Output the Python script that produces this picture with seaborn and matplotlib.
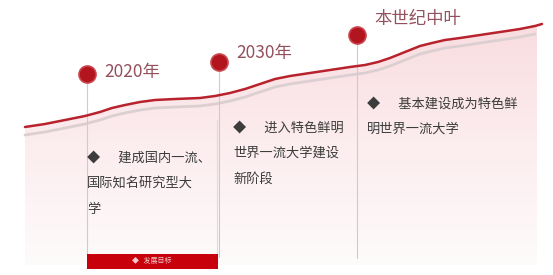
import numpy as np
import matplotlib
matplotlib.use('Agg')
import matplotlib.pyplot as plt
import seaborn as sns
import pandas as pd
from matplotlib.colors import LinearSegmentedColormap

sns.set_theme(style='white')
plt.rcParams['font.family'] = ['Noto Sans CJK SC', 'DejaVu Sans']

# curve (pixel coords, y down)
curve_x = [25, 45, 65, 85, 100, 112, 125, 140, 155, 175, 200, 215, 230, 245,
           260, 275, 290, 310, 330, 350, 365, 378, 390, 400, 410, 420, 432,
           445, 460, 480, 500, 520, 535, 542]
curve_y = [127, 124, 120, 116, 112, 108, 105, 102, 100, 99, 98, 96, 93, 89,
           84, 79, 76, 73, 70, 67, 65, 62, 58, 54, 50, 46, 43,
           40, 38, 35, 32, 29, 26, 24]

# milestones
stage_labels = ['2020年', '2030年', '本世纪中叶']
stage_x = [87, 219, 357]
stage_y = [74, 62, 35]
label_pos = [(104, 72), (236, 53), (374, 19)]

stage_text = [
    ['◆      建成国内一流、', '国际知名研究型大', '学'],
    ['◆      进入特色鲜明', '世界一流大学建设', '新阶段'],
    ['◆      基本建设成为特色鲜', '明世界一流大学'],
]
text_pos = [(87, 158), (233, 128), (367, 104)]

fig = plt.figure(figsize=(5.53, 2.75), dpi=100)
ax = fig.add_axes([0, 0, 1, 1])
ax.set_xlim(0, 553)
ax.set_ylim(275, 0)
ax.axis('off')

# pink gradient under the curve
cmap = LinearSegmentedColormap.from_list('pk', ['#f9dde0', '#fcedef', '#fefbfb'])
grad = np.linspace(0, 1, 256).reshape(-1, 1)
im = ax.imshow(grad, cmap=cmap, extent=[25, 537, 265, 25], aspect='auto', zorder=0)
poly_x = curve_x[:-1] + [537, 537, 25]
poly_y = curve_y[:-1] + [26, 265, 265]
clip = plt.Polygon(np.column_stack([poly_x, poly_y]), closed=True, transform=ax.transData)
im.set_clip_path(clip)

# right edge of the first panel
ax.plot([217, 217], [120, 255], color='#e3d8da', lw=0.8, zorder=2)

# gray shadow and red line
df = pd.DataFrame({'x': curve_x, 'y': curve_y})
shadow = df[df.x <= 535].copy()
shadow['y'] = shadow['y'] + 8
sns.lineplot(data=shadow, x='x', y='y', ax=ax, color='#dccfd2', lw=2.0, sort=False, zorder=2)
sns.lineplot(data=df, x='x', y='y', ax=ax, color='#b8222d', lw=1.8, sort=False, zorder=3)

# vertical markers
bottoms = [255, 257, 258]
for sx, sy, b in zip(stage_x, stage_y, bottoms):
    ax.plot([sx, sx], [sy, b], color='#d3c8ca', lw=0.8, zorder=2)

sns.scatterplot(x=stage_x, y=stage_y, ax=ax, s=150, color='#b3151f', edgecolor='#c9454d',
                linewidth=1.2, zorder=5, legend=False)

for lab, (lx, ly) in zip(stage_labels, label_pos):
    ax.text(lx, ly, lab, fontsize=12.5, color='#94505e', va='center', ha='left', zorder=6)

for lines, (tx, ty) in zip(stage_text, text_pos):
    for i, line in enumerate(lines):
        ax.text(tx, ty + i * 25.5, line, fontsize=9.5, color='#3c3c3c', va='center',
                ha='left', zorder=6)

# red bar at the bottom of the first panel
ax.add_patch(plt.Rectangle((87, 254), 131, 15, facecolor='#c7000b', edgecolor='none', zorder=6))
ax.text(152, 261.5, '◆   发展目标', fontsize=5, color='#f3c9cc', va='center', ha='center', zorder=7)

fig.savefig('out.png', dpi=100)
